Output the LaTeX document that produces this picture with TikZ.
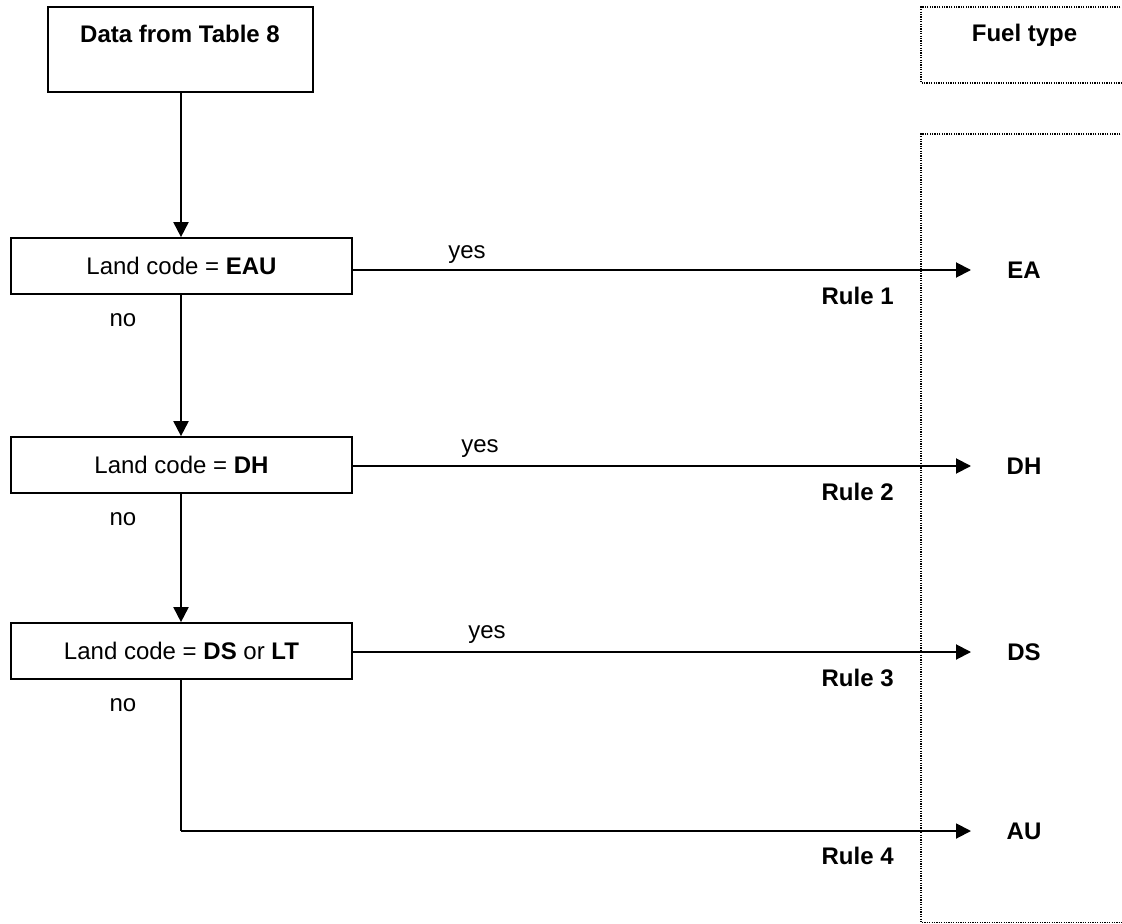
\documentclass[tikz,border=0pt]{standalone}
\usepackage{fontspec}
\setmainfont{Liberation Sans}
\usetikzlibrary{arrows.meta}
\begin{document}
\begin{tikzpicture}[x=0.5pt,y=-0.5pt,
  every node/.style={font=\fontsize{12}{14}\selectfont, inner sep=0pt},
  box/.style={draw, line width=0.85pt, inner sep=0pt},
  arr/.style={line width=0.95pt, -{Triangle[length=7.5pt,width=7.5pt]}},
  plain/.style={line width=0.95pt},
  dots/.style={line width=0.7pt, dash pattern=on 0.6pt off 0.6pt},
  lbl/.style={font=\fontsize{12}{14}\selectfont\bfseries}]
\useasboundingbox (0,0) rectangle (1122,924);
\clip (0,0) rectangle (1122,924);

% dotted frames on the right
\draw[dots] (1130,7) -- (921,7) -- (921,83) -- (1130,83);
\draw[dots] (1130,134) -- (921,134) -- (921,922.5) -- (1130,922.5);
\node[lbl] (fuel) at (1024.5,35) {Fuel type};

% start box
\node[box, minimum width=132.5pt, minimum height=42.5pt] (data) at (180.5,49.5) {};
\node[lbl] (datat) at (180,34) {Data from Table 8};

% decision boxes
\node[box, minimum width=170.5pt, minimum height=28pt] (b1) at (181.5,266) {Land code = \textbf{EAU}};
\node[box, minimum width=170.5pt, minimum height=28pt] (b2) at (181.5,465) {Land code = \textbf{DH}};
\node[box, minimum width=170.5pt, minimum height=28pt] (b3) at (181.5,651) {Land code = \textbf{DS} or \textbf{LT}};

% results
\node[lbl] (ea) at (1024,270) {EA};
\node[lbl] (dh) at (1024,466) {DH};
\node[lbl] (ds) at (1024,652) {DS};
\node[lbl] (au) at (1024,831) {AU};

\coordinate (t1) at (971,270);
\coordinate (t2) at (971,466);
\coordinate (t3) at (971,652);
\coordinate (t4) at (971,831);

% vertical flow
\draw[arr] (181,92) -- (b1.north -| 181,0);
\draw[arr] (b1.south -| 181,0) -- (b2.north -| 181,0);
\draw[arr] (b2.south -| 181,0) -- (b3.north -| 181,0);
\draw[plain] (b3.south -| 181,0) -- (181,831);
\draw[arr] (181,831) -- (t4);

% yes branches
\draw[arr] (b1.east |- t1) -- (t1);
\draw[arr] (b2.east |- t2) -- (t2);
\draw[arr] (b3.east |- t3) -- (t3);

% labels
\node (y1) at (467,255) {yes};
\node (y2) at (480,449) {yes};
\node (y3) at (487,635) {yes};
\node (n1) at (123,320) {no};
\node (n2) at (123,519) {no};
\node (n3) at (123,705) {no};
\node[lbl, anchor=east] (r1) at (894,296) {Rule 1};
\node[lbl, anchor=east] (r2) at (894,492) {Rule 2};
\node[lbl, anchor=east] (r3) at (894,678) {Rule 3};
\node[lbl, anchor=east] (r4) at (894,856) {Rule 4};
\end{tikzpicture}
\end{document}
